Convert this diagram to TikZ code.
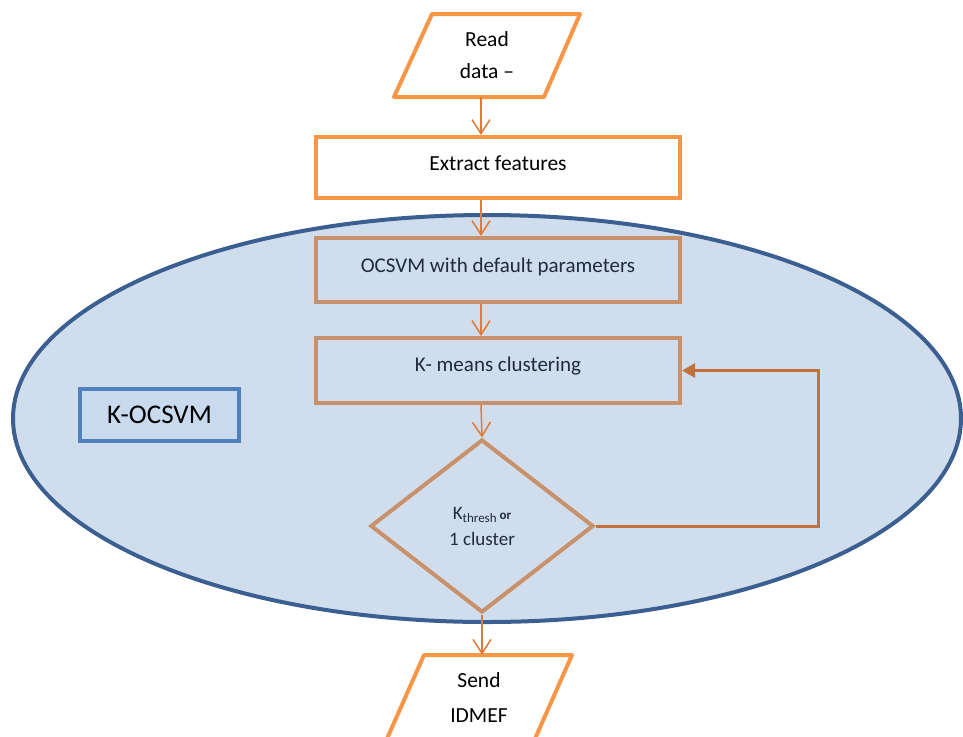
\documentclass[tikz,border=0pt]{standalone}
\usepackage{fontspec}
\setmainfont{Carlito}
\usetikzlibrary{shapes.geometric,arrows.meta,calc}
\definecolor{orangeb}{HTML}{F79646}
\definecolor{arrowor}{HTML}{E07A36}
\definecolor{tanb}{HTML}{C9916A}
\definecolor{loopc}{HTML}{C0713D}
\definecolor{ellfill}{HTML}{D0DDEC}
\definecolor{elldraw}{HTML}{3C5F91}
\definecolor{kfill}{HTML}{C9D9EE}
\definecolor{kdraw}{HTML}{4F81BD}
\definecolor{navytext}{HTML}{1F2B3E}
\newcommand{\uptext}[2]{\raisebox{#1}[\height][\depth]{#2}}
\tikzset{
  outbox/.style={draw=orangeb, line width=4pt, fill=white, rectangle, minimum width=364pt, inner sep=0pt, font=\fontsize{21.5}{26}\selectfont, text=black},
  inbox/.style={draw=tanb, line width=4pt, rectangle, minimum width=364pt, inner sep=0pt, font=\fontsize{21}{26}\selectfont, text=navytext},
  paratext/.style={inner sep=0pt, align=center, font=\fontsize{21.5}{32}\selectfont, text=black},
  flow/.style={draw=arrowor, line width=1.5pt, -{Straight Barb[length=14pt,width=18pt,line width=1.5pt]}},
  loopline/.style={draw=loopc, line width=3pt, -{Triangle[length=13pt,width=14pt]}},
  decision/.style={diamond, draw=tanb, line width=4pt, inner sep=0pt, minimum width=223pt, minimum height=173pt, aspect=1.29, align=center, text=navytext, font=\fontsize{19}{26}\selectfont},
  kbox/.style={draw=kdraw, fill=kfill, line width=3.5pt, rectangle, minimum width=159pt, minimum height=52pt, inner sep=0pt, font=\fontsize{27}{30}\selectfont, text=black}
}
\begin{document}
\begin{tikzpicture}[x=1pt,y=-1pt]
\useasboundingbox (0,0) rectangle (963,736);
\clip (0,0) rectangle (963,736);
\coordinate (spine) at (481,0);
\coordinate (loopx) at (818,0);
% read data parallelogram
\draw[draw=orangeb, line width=4pt, line join=round, fill=white] (432,14) -- (580,14) -- (544,97) -- (394,97) -- cycle;
\node[paratext, minimum height=83pt] (read) at (487,55.5) {Read\\data --};
% extract
\node[outbox, minimum height=61pt] (ext) at (498,167.5) {\uptext{4pt}{Extract features}};
% ellipse
\draw[draw=elldraw, fill=ellfill, line width=4pt] (487,418.5) ellipse [x radius=474, y radius=203.5];
\node[kbox] (kocsvm) at (159.5,415) {K-OCSVM};
\node[inbox, minimum height=64pt] (ocsvm) at (498,270) {\uptext{3pt}{OCSVM with default parameters}};
\node[inbox, minimum height=65pt] (km) at (498,370.5) {\uptext{4pt}{K- means clustering}};
\node[decision] (dec) at (482,526) {K{\fontsize{13}{13}\selectfont\raisebox{-3pt}{thresh} \textbf{or}}\\1 cluster};
% send parallelogram
\draw[draw=orangeb, line width=4pt, line join=round, fill=white] (424,655) -- (572,655) -- (534,741) -- (386,741) -- cycle;
\node[paratext, minimum height=86pt, font=\fontsize{21.5}{35}\selectfont] (send) at (479,698) {Send\\IDMEF};
% connectors
\draw[flow] (read.south -| spine) -- (ext.north -| spine);
\draw[flow] (ext.south -| spine) -- (ocsvm.north -| spine);
\draw[flow] (ocsvm.south -| spine) -- (km.north -| spine);
\draw[flow] (km.south -| spine) -- (dec.north);
\draw[flow] (dec.south) -- (send.north -| dec.south);
\draw[loopline] (dec.east) -- (dec.east -| loopx) |- (km.east);
\end{tikzpicture}
\end{document}
